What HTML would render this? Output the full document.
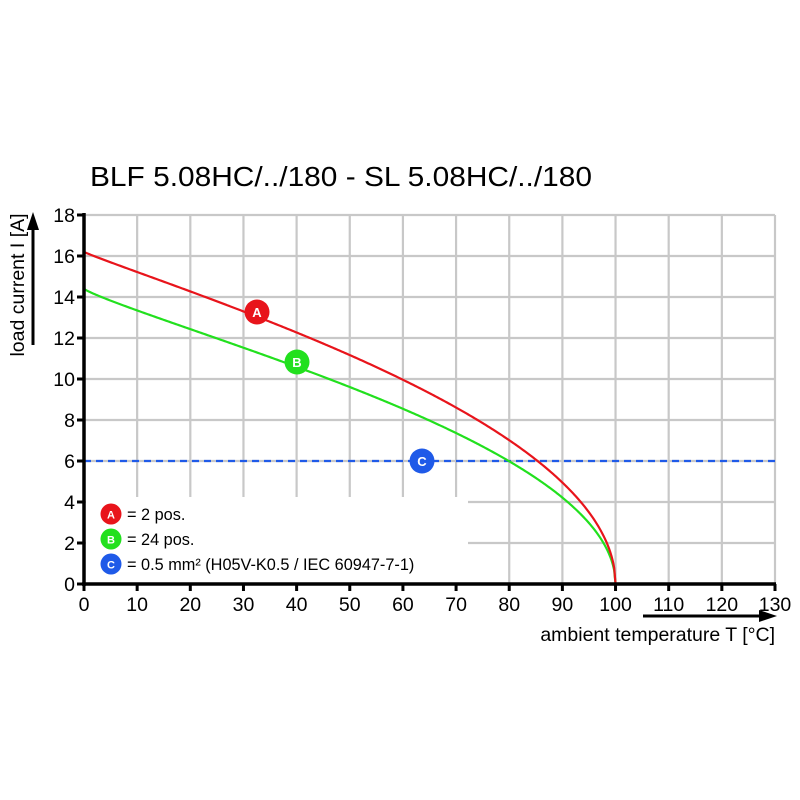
<!DOCTYPE html>
<html><head><meta charset="utf-8"><style>
html,body{margin:0;padding:0;background:#fff;}
svg{display:block;font-family:"Liberation Sans",Arial,sans-serif;}
</style></head><body>
<svg id="s" width="800" height="800" viewBox="0 0 800 800" xmlns="http://www.w3.org/2000/svg">
<rect width="800" height="800" fill="#fff"/>
<text x="90" y="186" font-size="28" textLength="502" lengthAdjust="spacingAndGlyphs">BLF 5.08HC/../180 - SL 5.08HC/../180</text>
<g id="grid" stroke="#c8c8c8" stroke-width="2.2"></g>
<rect x="86" y="497" width="382" height="86" fill="#fff"/>
<line x1="84" y1="461" x2="775" y2="461" stroke="#1f5ae8" stroke-width="2.2" stroke-dasharray="7,5"/>
<path id="pb" fill="none" stroke="#22e01e" stroke-width="2.2"/>
<path id="pa" fill="none" stroke="#e8141b" stroke-width="2.2"/>
<g id="axes" stroke="#000" stroke-width="3.5"></g>
<g id="lbl" font-size="19.5"></g>
<line x1="33" y1="345" x2="33" y2="228" stroke="#000" stroke-width="3"/>
<polygon points="33,212 27,230 39,230" fill="#000"/>
<text transform="translate(24,285) rotate(-90)" font-size="19.5" text-anchor="middle">load current I [A]</text>
<line x1="643" y1="616" x2="760" y2="616" stroke="#000" stroke-width="3"/>
<polygon points="777,616 759,610 759,622" fill="#000"/>
<text x="775" y="641" font-size="19.5" text-anchor="end">ambient temperature T [°C]</text>
<g font-weight="bold" font-size="13" text-anchor="middle" fill="#fff">
<circle cx="257" cy="312" r="12.5" fill="#e8141b"/><text x="257" y="317">A</text>
<circle cx="297" cy="362" r="12.5" fill="#22e01e"/><text x="297" y="367">B</text>
<circle cx="422" cy="461" r="12.5" fill="#1f5ae8"/><text x="422" y="466">C</text>
<circle cx="111" cy="514" r="10.5" fill="#e8141b"/><text x="111" y="518.5" font-size="11">A</text>
<circle cx="111" cy="539" r="10.5" fill="#22e01e"/><text x="111" y="543.5" font-size="11">B</text>
<circle cx="111" cy="564" r="10.5" fill="#1f5ae8"/><text x="111" y="568.5" font-size="11">C</text>
</g>
<g font-size="16.3">
<text x="127" y="520">= 2 pos.</text>
<text x="127" y="545">= 24 pos.</text>
<text x="127" y="570">= 0.5 mm² (H05V-K0.5 / IEC 60947-7-1)</text>
</g>
</svg>
<script>
var X=function(t){return 84+t*691/130},Y=function(v){return 584-v*369/18};
var ns="http://www.w3.org/2000/svg",g=document.getElementById('grid'),ax=document.getElementById('axes'),lb=document.getElementById('lbl');
function el(p,n,a){var e=document.createElementNS(ns,n);for(var k in a)e.setAttribute(k,a[k]);p.appendChild(e);return e;}
for(var t=10;t<=130;t+=10){var x=X(t);el(g,'line',{x1:x,y1:215,x2:x,y2:584});}
for(var v=2;v<=18;v+=2){var y=Y(v);el(g,'line',{x1:84,y1:y,x2:775,y2:y});}
el(ax,'line',{x1:84,y1:213,x2:84,y2:586});
el(ax,'line',{x1:82,y1:584,x2:776,y2:584});
for(var t=0;t<=130;t+=10){var x=X(t);el(ax,'line',{x1:x,y1:584,x2:x,y2:591,'stroke-width':3});var e=el(lb,'text',{x:x,y:611,'text-anchor':'middle'});e.textContent=t;}
for(var v=0;v<=18;v+=2){var y=Y(v);el(ax,'line',{x1:77,y1:y,x2:84,y2:y,'stroke-width':3});var e=el(lb,'text',{x:75,y:y+7,'text-anchor':'end'});e.textContent=v;}
function curve(id,i0,k){var d='';for(var i=0;i<=400;i++){var t=i/4;var v=i0*Math.sqrt(Math.max(0,1-Math.pow(t/100,k)));d+=(i?'L':'M')+X(t).toFixed(2)+','+Y(v).toFixed(2);}document.getElementById(id).setAttribute('d',d);}
curve('pa',16.2,0.93);curve('pb',14.4,0.85);
</script>
</body></html>
